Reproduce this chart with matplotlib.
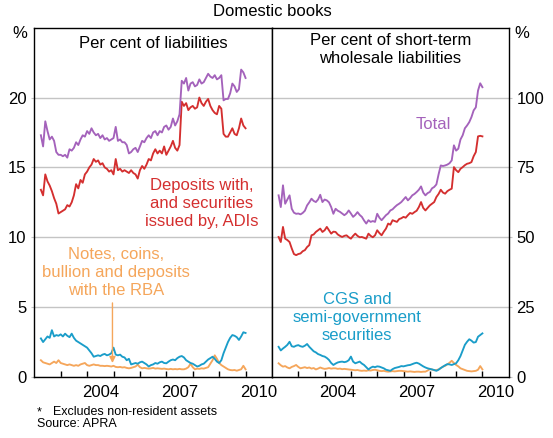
import numpy as np
import matplotlib
matplotlib.use("Agg")
import matplotlib.pyplot as plt

plt.rcParams.update({
    "font.family": ["Liberation Sans", "DejaVu Sans"],
    "font.size": 12,
    "axes.linewidth": 1.0,
})

PURPLE = "#a462bb"
RED = "#d42f2f"
ORANGE = "#f5a65b"
BLUE = "#1a9dc9"
GRID = "#c4c4c4"

# monthly observations, Mar 2002 .. Dec 2009 (month-end positions)
months = 2002 + np.arange(3, 97) / 12

# per cent of liabilities
liab_total = [
    17.3, 16.5, 18.3, 17.6, 17.0, 17.2, 16.9, 16.1, 15.9, 15.9,
    15.8, 15.9, 15.7, 16.3, 16.2, 16.4, 16.8, 16.6, 17.0, 17.3,
    17.2, 17.6, 17.4, 17.8, 17.5, 17.3, 17.4, 17.1, 17.3, 17.0,
    17.1, 16.9, 17.0, 17.1, 17.9, 16.9, 17.0, 16.8, 16.8, 16.6,
    16.0, 16.1, 16.3, 16.4, 16.1, 16.5, 16.9, 16.8, 17.1, 17.3,
    17.1, 17.5, 17.6, 17.3, 17.6, 17.5, 17.9, 18.0, 17.7, 17.9,
    18.5, 18.0, 18.3, 18.8, 21.2, 21.0, 21.4, 20.5, 21.0, 21.1,
    20.8, 20.9, 21.3, 21.0, 21.1, 21.4, 21.7, 21.5, 21.4, 21.6,
    21.3, 21.4, 21.6, 19.8, 19.9, 19.9, 20.3, 21.0, 20.8, 20.4,
    20.6, 22.0, 21.8, 21.4]
liab_adi = [
    13.4, 13.0, 14.5, 14.0, 13.7, 13.3, 12.8, 12.4, 11.7, 11.8,
    11.9, 12.0, 12.3, 12.2, 12.5, 13.0, 13.8, 13.5, 14.1, 13.9,
    14.5, 14.7, 15.0, 15.2, 15.6, 15.4, 15.5, 15.2, 15.3, 15.0,
    14.9, 14.7, 14.8, 14.5, 15.6, 14.8, 14.9, 14.7, 14.8, 14.7,
    14.6, 14.8, 14.6, 14.5, 14.2, 14.8, 15.1, 14.9, 15.2, 15.6,
    15.5, 16.0, 16.3, 16.0, 16.2, 16.0, 16.5, 15.9, 16.2, 16.5,
    16.9, 16.4, 16.2, 16.6, 19.7, 19.4, 19.6, 19.1, 19.3, 19.4,
    19.2, 19.3, 20.0, 19.6, 19.4, 19.7, 19.9, 19.4, 19.1, 18.9,
    18.8, 19.4, 19.2, 17.4, 17.2, 17.2, 17.5, 17.8, 17.4, 17.3,
    17.8, 18.5, 18.0, 17.8]
liab_cgs = [
    2.76, 2.5, 2.7, 2.9, 2.8, 3.35, 2.9, 3.0, 2.95, 3.05,
    2.9, 3.1, 2.95, 2.85, 3.1, 2.8, 2.6, 2.5, 2.4, 2.3,
    2.2, 2.1, 1.9, 1.7, 1.45, 1.5, 1.55, 1.5, 1.6, 1.65,
    1.55, 1.6, 1.7, 2.1, 1.6, 1.55, 1.6, 1.45, 1.4, 1.2,
    1.3, 0.9, 0.95, 1.0, 0.95, 1.05, 1.1, 1.0, 0.9, 0.75,
    0.85, 0.9, 1.0, 0.95, 1.05, 1.1, 1.0, 0.98, 1.1, 1.2,
    1.25, 1.2, 1.35, 1.45, 1.5, 1.4, 1.2, 1.1, 1.0, 0.95,
    0.85, 0.75, 0.8, 0.9, 0.95, 1.1, 1.25, 1.35, 1.45, 1.3,
    1.1, 1.0, 1.2, 1.7, 2.1, 2.5, 2.8, 3.0, 2.95, 2.85,
    2.65, 2.9, 3.2, 3.15]
liab_rba = [
    1.2, 1.05, 1.0, 0.95, 0.9, 1.0, 1.1, 1.0, 1.2, 1.0,
    0.95, 0.9, 0.85, 0.9, 0.85, 0.8, 0.85, 0.8, 0.9, 0.95,
    1.0, 0.85, 0.8, 0.85, 0.9, 0.85, 0.85, 0.8, 0.8, 0.78,
    0.8, 0.78, 0.75, 0.8, 0.72, 0.7, 0.72, 0.68, 0.7, 0.65,
    0.62, 0.65, 0.7, 0.75, 0.88, 0.7, 0.62, 0.65, 0.62, 0.6,
    0.62, 0.65, 0.6, 0.62, 0.6, 0.58, 0.6, 0.57, 0.55, 0.58,
    0.55, 0.57, 0.55, 0.58, 0.55, 0.55, 0.6, 0.7, 0.95, 0.7,
    0.55, 0.6, 0.58, 0.62, 0.6, 0.65, 0.7, 0.95, 1.2, 1.55,
    1.3, 1.0, 0.85, 0.75, 0.65, 0.55, 0.5, 0.48, 0.5, 0.45,
    0.5, 0.55, 0.8, 0.55]

# per cent of short-term wholesale liabilities
stw_total = [
    65.0, 60.8, 68.6, 62.0, 63.5, 65.0, 60.2, 58.8, 58.4, 58.5,
    58.2, 58.7, 59.5, 61.4, 62.5, 63.8, 63.0, 62.6, 63.5, 65.2,
    62.6, 63.5, 63.2, 62.5, 60.8, 58.4, 60.2, 59.5, 59.1, 58.5,
    57.9, 58.5, 59.6, 58.5, 57.3, 58.0, 59.0, 58.0, 57.3, 56.0,
    54.9, 56.1, 55.5, 55.8, 55.5, 58.4, 57.0, 56.1, 57.0, 57.9,
    58.5, 59.6, 60.0, 60.8, 61.5, 62.0, 62.6, 63.5, 64.4, 63.2,
    64.0, 65.0, 65.5, 66.2, 67.0, 68.2, 66.0, 65.0, 65.8, 66.2,
    67.5, 68.0, 68.9, 72.5, 75.7, 75.5, 75.7, 76.0, 76.5, 77.5,
    82.9, 81.0, 81.7, 85.0, 86.5, 89.0, 90.0, 91.2, 93.0, 95.4,
    96.5, 102.5, 105.1, 103.7]
stw_adi = [
    50.1, 48.3, 53.7, 49.5, 49.0, 48.3, 46.0, 44.0, 43.6, 44.0,
    44.2, 45.0, 45.4, 46.5, 47.2, 50.7, 51.0, 51.9, 52.5, 53.1,
    51.9, 52.5, 53.7, 52.5, 51.3, 52.0, 51.9, 51.0, 50.5, 50.1,
    50.5, 50.7, 50.0, 49.5, 50.5, 51.3, 50.5, 50.0, 50.1, 49.8,
    49.5, 51.3, 50.5, 50.0, 50.7, 52.5, 51.5, 50.7, 52.0, 53.1,
    54.9, 54.5, 56.1, 55.8, 55.5, 56.5, 56.8, 57.3, 57.0, 57.9,
    58.7, 58.4, 59.0, 59.5, 60.8, 62.6, 60.5, 59.6, 60.5, 61.4,
    62.0, 62.6, 64.4, 65.5, 67.0, 66.0, 65.6, 66.5, 67.0, 67.4,
    75.1, 74.0, 73.3, 74.5, 75.1, 75.8, 76.3, 76.5, 76.9, 79.0,
    80.5, 86.1, 86.3, 86.1]
stw_cgs = [
    10.8, 9.5, 10.2, 10.8, 11.5, 12.6, 11.0, 10.8, 11.2, 11.4,
    11.0, 10.8, 11.2, 11.8, 10.8, 10.0, 9.2, 8.8, 8.2, 7.9,
    7.5, 7.3, 6.8, 6.1, 5.0, 4.3, 4.8, 5.2, 5.4, 5.5,
    5.3, 5.5, 6.0, 7.3, 5.5, 4.9, 5.2, 5.5, 4.8, 4.3,
    3.5, 2.7, 3.3, 3.7, 3.5, 3.8, 3.7, 3.4, 3.1, 2.6,
    2.4, 2.2, 2.8, 3.2, 3.4, 3.6, 3.9, 3.8, 4.0, 4.2,
    4.3, 4.6, 4.9, 5.1, 4.8, 4.3, 3.8, 3.4, 3.1, 2.9,
    2.7, 2.5, 2.2, 2.6, 3.2, 3.7, 4.2, 4.6, 4.5, 4.3,
    4.6, 4.9, 6.0, 7.5, 9.5, 11.5, 12.6, 13.5, 13.0, 12.3,
    12.5, 14.4, 15.0, 15.6]
stw_rba = [
    4.9, 4.2, 3.7, 3.9, 3.4, 3.1, 3.6, 3.9, 4.3, 3.6,
    3.1, 3.3, 3.5, 3.2, 3.4, 3.0, 3.2, 2.7, 3.0, 3.4,
    3.1, 2.9, 3.0, 3.2, 3.0, 3.1, 3.1, 2.9, 3.0, 2.8,
    2.9, 2.8, 2.7, 2.6, 2.5, 2.4, 2.5, 2.3, 2.2, 2.3,
    2.2, 2.4, 2.3, 2.5, 2.6, 2.4, 2.2, 2.1, 2.2, 2.0,
    1.9, 2.0, 2.1, 2.0, 2.1, 2.2, 2.2, 2.1, 2.0, 1.9,
    2.0, 1.9, 1.8, 1.9, 1.9, 1.8, 1.9, 1.9, 2.3, 2.8,
    2.7, 2.4, 2.5, 2.7, 3.2, 3.7, 4.0, 4.5, 5.1, 5.8,
    5.0, 4.3, 3.8, 3.1, 2.8, 2.5, 2.2, 2.1, 2.0, 2.1,
    2.2, 2.6, 3.9, 2.7]

year_ticks = list(range(2003, 2011))
year_labels = ["2004", "2007", "2010"]


def style_panel(ax, ymax, ystep, side):
    ax.set_xlim(2002, 2011)
    ax.set_ylim(0, ymax)
    ax.set_yticks(np.arange(0, ymax, ystep))
    ax.yaxis.grid(True, color=GRID, lw=1.0)
    ax.set_axisbelow(True)
    ax.set_xticks(year_ticks)
    ax.set_xticklabels([])
    ax.tick_params(axis="x", which="major", direction="in", length=4.5, width=1.0)
    ax.set_xticks([int(y) + 0.5 for y in year_labels], minor=True)
    ax.set_xticklabels(year_labels, minor=True)
    ax.tick_params(axis="x", which="minor", length=0, pad=6)
    if side == "left":
        ax.tick_params(axis="y", direction="out", length=2.5, color=GRID, pad=3,
                       left=True, right=False, labelleft=True, labelright=False)
    else:
        ax.tick_params(axis="y", direction="out", length=2.5, color=GRID, pad=3,
                       left=False, right=True, labelleft=False, labelright=True)


fig = plt.figure(figsize=(5.53, 4.38), dpi=100)
axL = fig.add_axes([0.0620, 0.1393, 0.4298, 0.7975])
axR = fig.add_axes([0.4919, 0.1393, 0.4280, 0.7975])

lw = 1.35
for ax, tot, adi, cgs, rba in [(axL, liab_total, liab_adi, liab_cgs, liab_rba),
                               (axR, stw_total, stw_adi, stw_cgs, stw_rba)]:
    ax.plot(months, rba, color=ORANGE, lw=lw)
    ax.plot(months, cgs, color=BLUE, lw=lw)
    ax.plot(months, adi, color=RED, lw=lw)
    ax.plot(months, tot, color=PURPLE, lw=lw)

style_panel(axL, 25, 5, "left")
style_panel(axR, 125, 25, "right")

LS = 1.25
axL.text(0.5, 0.975, "Per cent of liabilities", transform=axL.transAxes,
         ha="center", va="top")
axR.text(0.5, 0.985, "Per cent of short-term\nwholesale liabilities",
         transform=axR.transAxes, ha="center", va="top", linespacing=LS)

axL.text(2008.34, 12.45, "Deposits with,\nand securities\nissued by, ADIs",
         color=RED, ha="center", va="center", linespacing=LS)
axL.text(2005.11, 7.5, "Notes, coins,\nbullion and deposits\nwith the RBA",
         color=ORANGE, ha="center", va="center", linespacing=LS)
axL.annotate("", xy=(2004.96, 1.0), xytext=(2004.96, 5.3),
             arrowprops=dict(arrowstyle="-|>", color=ORANGE, lw=1.0,
                             mutation_scale=9, shrinkA=0, shrinkB=0))
axR.text(2008.12, 90.4, "Total", color=PURPLE, ha="center", va="center")
axR.text(2005.23, 21.4, "CGS and\nsemi-government\nsecurities",
         color=BLUE, ha="center", va="center", linespacing=LS)

fig.text(272 / 553, 1 - 12 / 438, "Domestic books", ha="center", va="center")
fig.text(19.5 / 553, 1 - 34 / 438, "%", ha="center", va="center")
fig.text(521.5 / 553, 1 - 34 / 438, "%", ha="center", va="center")
fig.text(37 / 553, 1 - 412 / 438, "*", ha="left", va="center", fontsize=9)
fig.text(53 / 553, 1 - 412 / 438, "Excludes non-resident assets",
         ha="left", va="center", fontsize=9)
fig.text(37 / 553, 1 - 424 / 438, "Source: APRA", ha="left", va="center",
         fontsize=9)

fig.savefig("out.png", dpi=100)
